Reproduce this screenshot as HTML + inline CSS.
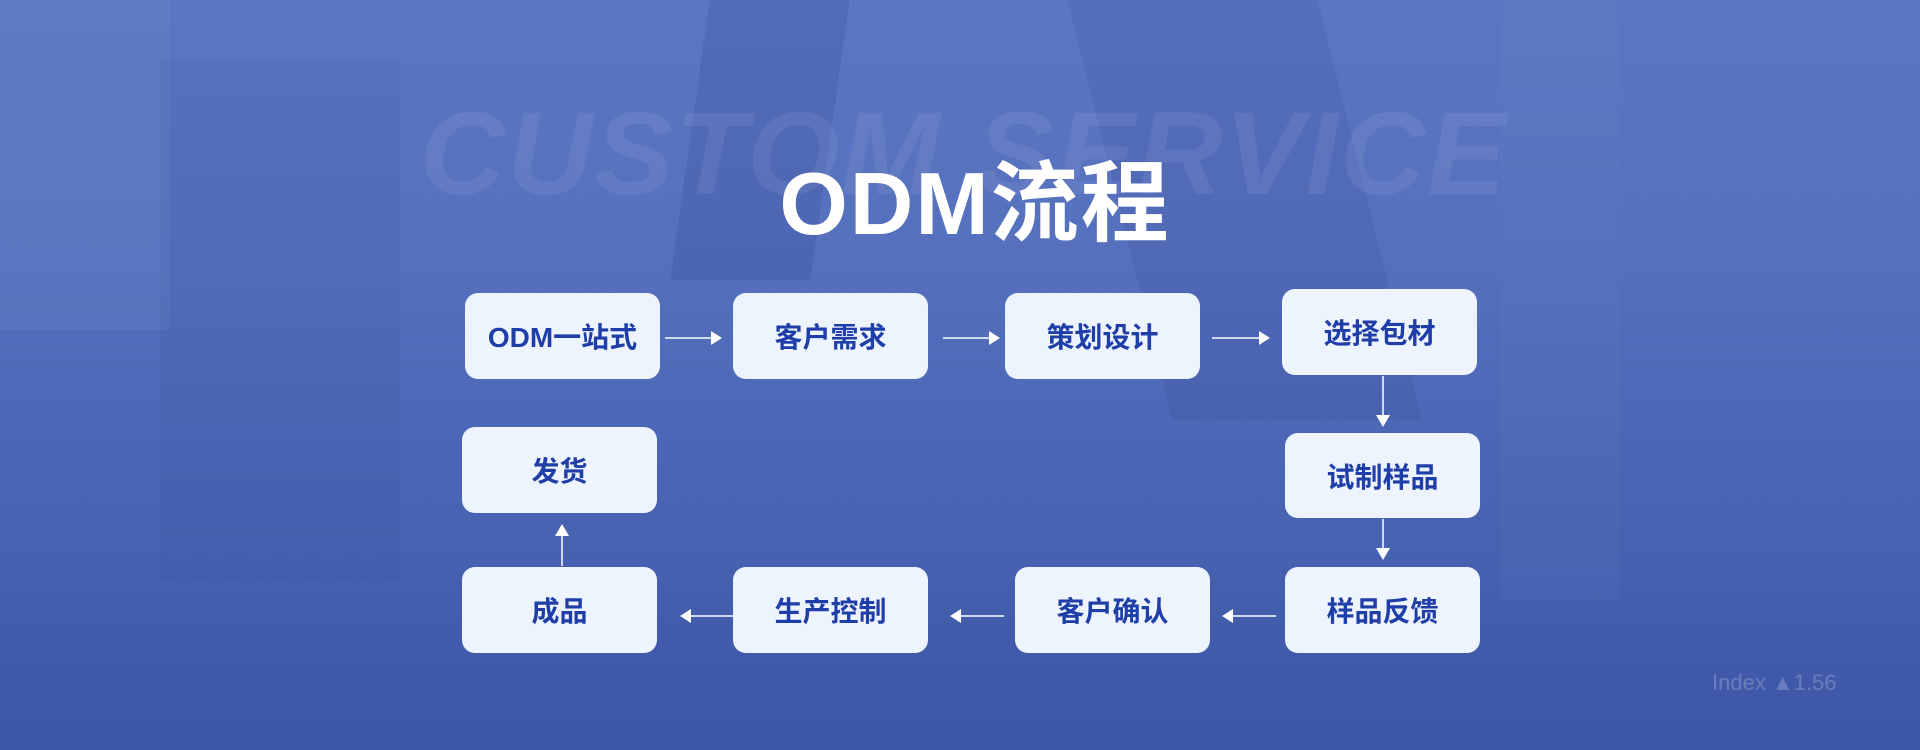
<!DOCTYPE html>
<html><head><meta charset="utf-8"><style>
html,body{margin:0;padding:0}
body{width:1920px;height:750px;overflow:hidden;position:relative;
background:linear-gradient(180deg,#5c77c1 0%,#5570bd 35%,#4964b3 65%,#4059aa 100%);
font-family:"Liberation Sans","Noto Sans CJK SC",sans-serif}
.bg{position:absolute}
.bx{position:absolute;background:#eef4fe;border-radius:13px;color:#1f3ea8;font-weight:bold;font-size:28px;display:flex;align-items:center;justify-content:center}
.ttl{position:absolute;left:0;width:1950px;text-align:center;top:154px;font-size:88px;font-weight:bold;color:#fff;letter-spacing:2px;line-height:100px}
.cs{position:absolute;left:420px;top:86px;font-size:118px;font-weight:bold;font-style:italic;color:rgba(255,255,255,.07);letter-spacing:2px;white-space:nowrap}
svg{position:absolute;left:0;top:0}
</style></head><body>
<div class="bg" style="left:0;top:0;width:170px;height:330px;background:rgba(120,145,205,.18)"></div>
<div class="bg" style="left:160px;top:60px;width:240px;height:520px;background:rgba(60,85,160,.12)"></div>
<div class="bg" style="left:690px;top:0;width:140px;height:280px;background:rgba(40,60,140,.18);transform:skewX(-8deg)"></div>
<div class="bg" style="left:1120px;top:0;width:250px;height:420px;background:rgba(50,70,150,.15);transform:skewX(14deg)"></div>
<div class="bg" style="left:1500px;top:0;width:120px;height:600px;background:rgba(110,135,200,.1)"></div>
<div class="bg" style="left:0;top:570px;width:1920px;height:180px;background:linear-gradient(180deg,rgba(60,85,165,0),rgba(55,80,160,.4))"></div>
<div class="cs">CUSTOM SERVICE</div>
<div class="ttl">ODM流程</div>
<div class="bx" style="left:465px;top:293px;width:195px;height:86px">ODM一站式</div>
<div class="bx" style="left:733px;top:293px;width:195px;height:86px">客户需求</div>
<div class="bx" style="left:1005px;top:293px;width:195px;height:86px">策划设计</div>
<div class="bx" style="left:1282px;top:289px;width:195px;height:86px">选择包材</div>
<div class="bx" style="left:1285px;top:433px;width:195px;height:85px">试制样品</div>
<div class="bx" style="left:462px;top:427px;width:195px;height:86px">发货</div>
<div class="bx" style="left:462px;top:567px;width:195px;height:86px">成品</div>
<div class="bx" style="left:733px;top:567px;width:195px;height:86px">生产控制</div>
<div class="bx" style="left:1015px;top:567px;width:195px;height:86px">客户确认</div>
<div class="bx" style="left:1285px;top:567px;width:195px;height:86px">样品反馈</div>
<svg width="1920" height="750" fill="#fff" stroke="#fff">
<g stroke-width="1.5">
<line x1="665" y1="338" x2="712" y2="338"/><polygon points="722,338 711,331 711,345" stroke="none"/>
<line x1="943" y1="338" x2="990" y2="338"/><polygon points="1000,338 989,331 989,345" stroke="none"/>
<line x1="1212" y1="338" x2="1260" y2="338"/><polygon points="1270,338 1259,331 1259,345" stroke="none"/>
<line x1="1383" y1="376" x2="1383" y2="417"/><polygon points="1383,427 1376,415 1390,415" stroke="none"/>
<line x1="1383" y1="519" x2="1383" y2="550"/><polygon points="1383,560 1376,548 1390,548" stroke="none"/>
<line x1="1276" y1="616" x2="1232" y2="616"/><polygon points="1222,616 1233,609 1233,623" stroke="none"/>
<line x1="1004" y1="616" x2="960" y2="616"/><polygon points="950,616 961,609 961,623" stroke="none"/>
<line x1="733" y1="616" x2="690" y2="616"/><polygon points="680,616 691,609 691,623" stroke="none"/>
<line x1="562" y1="566" x2="562" y2="534"/><polygon points="562,524 555,536 569,536" stroke="none"/>
</g>
<text x="1712" y="690" font-size="22" fill="rgba(255,255,255,.22)" stroke="none" font-family="Liberation Sans">Index  ▲1.56</text>
</svg>
</body></html>
